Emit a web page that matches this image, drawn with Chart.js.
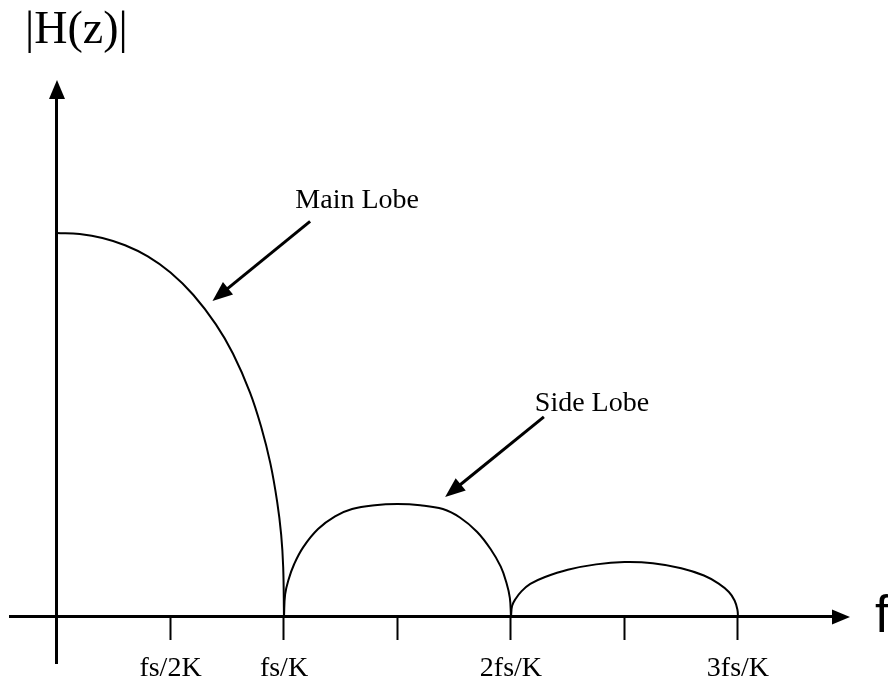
<!DOCTYPE html>
<html>
<head>
<meta charset="utf-8">
<title>|H(z)| main and side lobes</title>
<script src="https://cdn.jsdelivr.net/npm/chart.js@4.4.0/dist/chart.umd.min.js"></script>
<style>
  html, body { margin: 0; padding: 0; background: #fff; }
  canvas { display: block; }
</style>
</head>
<body>
<canvas id="lobeChart" width="888" height="682"></canvas>
<script>
// x in units of fs/2K, y relative to the main lobe peak
const tickLabels = ['', 'fs/2K', 'fs/K', '', '2fs/K', '', '3fs/K'];

const mainLobeX = [0, 0.2, 0.4, 0.6, 0.8, 1.0, 1.2, 1.4, 1.55, 1.7, 1.8, 1.88, 1.94, 1.975, 1.993, 2.0];
const mainLobeY = [1.0, 0.997, 0.987, 0.968, 0.939, 0.897, 0.839, 0.762, 0.686, 0.585, 0.494, 0.4, 0.3, 0.215, 0.13, 0];

const sideLobe1X = [2.0, 2.01, 2.04, 2.09, 2.17, 2.3, 2.45, 2.6, 2.8, 3.0, 3.2, 3.4, 3.55, 3.7, 3.82, 3.91, 3.96, 3.99, 4.0];
const sideLobe1Y = [0, 0.059, 0.097, 0.138, 0.182, 0.229, 0.262, 0.281, 0.291, 0.294, 0.291, 0.281, 0.259, 0.222, 0.177, 0.131, 0.089, 0.05, 0];

const sideLobe2X = [4.0, 4.01, 4.04, 4.09, 4.17, 4.3, 4.5, 4.75, 5.0, 5.25, 5.5, 5.7, 5.83, 5.92, 5.97, 5.995, 6.0];
const sideLobe2Y = [0, 0.029, 0.047, 0.066, 0.086, 0.104, 0.123, 0.137, 0.143, 0.14, 0.127, 0.108, 0.087, 0.065, 0.043, 0.019, 0];

// callout text and arrows, in data units
const callouts = [
    { text: 'Main Lobe', at: [2.10, 1.065], from: [2.23, 1.03], to: [1.37, 0.823] },
    { text: 'Side Lobe', at: [4.21, 0.536], from: [4.29, 0.521], to: [3.42, 0.3125] }
];

const toPoints = (xs, ys) => xs.map((x, i) => ({ x: x, y: ys[i] }));

function drawArrow(ctx, x1, y1, x2, y2, headLen, halfW, lineW) {
    const a = Math.atan2(y2 - y1, x2 - x1);
    const bx = x2 - headLen * Math.cos(a);
    const by = y2 - headLen * Math.sin(a);
    if (lineW) {
        ctx.lineWidth = lineW;
        ctx.beginPath();
        ctx.moveTo(x1, y1);
        ctx.lineTo(bx + Math.cos(a), by + Math.sin(a));
        ctx.stroke();
    }
    ctx.beginPath();
    ctx.moveTo(x2, y2);
    ctx.lineTo(bx + halfW * Math.sin(a), by - halfW * Math.cos(a));
    ctx.lineTo(bx - halfW * Math.sin(a), by + halfW * Math.cos(a));
    ctx.closePath();
    ctx.fill();
}

const sketchExtras = {
    id: 'sketchExtras',
    afterDraw(chart) {
        const { ctx, chartArea, scales: { x, y } } = chart;
        const x0 = x.getPixelForValue(0);
        const y0 = y.getPixelForValue(0);
        ctx.save();
        ctx.fillStyle = '#000';
        ctx.strokeStyle = '#000';

        // axis arrow heads
        drawArrow(ctx, chartArea.right - 2, y0, chartArea.right + 16, y0, 18, 7.5, 0);
        drawArrow(ctx, x0, chartArea.top + 2, x0, chartArea.top - 17, 19, 8, 0);

        // axis names
        ctx.textBaseline = 'alphabetic';
        ctx.textAlign = 'left';
        ctx.font = '46px "Liberation Serif"';
        ctx.fillText('|H(z)|', x0 - 32, chartArea.top - 54);
        ctx.font = '51px "Liberation Sans"';
        ctx.fillText('f', chartArea.right + 41, y0 + 15);

        // callouts
        ctx.font = '28px "Liberation Serif"';
        callouts.forEach(c => {
            ctx.fillText(c.text, x.getPixelForValue(c.at[0]), y.getPixelForValue(c.at[1]));
            drawArrow(ctx,
                x.getPixelForValue(c.from[0]), y.getPixelForValue(c.from[1]),
                x.getPixelForValue(c.to[0]), y.getPixelForValue(c.to[1]),
                20, 8, 3);
        });
        ctx.restore();
    }
};

const lobeStyle = {
    showLine: true,
    borderColor: '#000',
    borderWidth: 2,
    pointRadius: 0,
    fill: false,
    tension: 0.4
};

const ctx = document.getElementById('lobeChart').getContext('2d');
new Chart(ctx, {
    type: 'scatter',
    data: {
        datasets: [
            { label: 'Main Lobe', data: toPoints(mainLobeX, mainLobeY), ...lobeStyle },
            { label: 'Side Lobe 1', data: toPoints(sideLobe1X, sideLobe1Y), ...lobeStyle },
            { label: 'Side Lobe 2', data: toPoints(sideLobe2X, sideLobe2Y), ...lobeStyle }
        ]
    },
    options: {
        responsive: false,
        animation: false,
        layout: {
            padding: { left: 10, right: 54, top: 97, bottom: 19 }
        },
        plugins: {
            legend: { display: false },
            tooltip: { enabled: false }
        },
        scales: {
            x: {
                type: 'linear',
                position: { y: 0 },
                min: -0.414,
                max: 6.846,
                afterBuildTicks: axis => {
                    axis.ticks = tickLabels.map((_, i) => ({ value: i }));
                },
                ticks: {
                    autoSkip: false,
                    maxRotation: 0,
                    padding: 13,
                    color: '#000',
                    font: { family: '"Liberation Serif"', size: 28 },
                    callback: value => tickLabels[value] || ''
                },
                grid: {
                    display: true,
                    drawOnChartArea: false,
                    drawTicks: true,
                    tickLength: 22,
                    tickWidth: 2,
                    tickColor: '#000'
                },
                border: { display: true, width: 3, color: '#000' }
            },
            y: {
                type: 'linear',
                position: { x: 0 },
                min: -0.1198,
                max: 1.354,
                ticks: { display: false },
                grid: { display: false },
                border: { display: true, width: 3, color: '#000' }
            }
        }
    },
    plugins: [sketchExtras]
});
</script>
</body>
</html>
